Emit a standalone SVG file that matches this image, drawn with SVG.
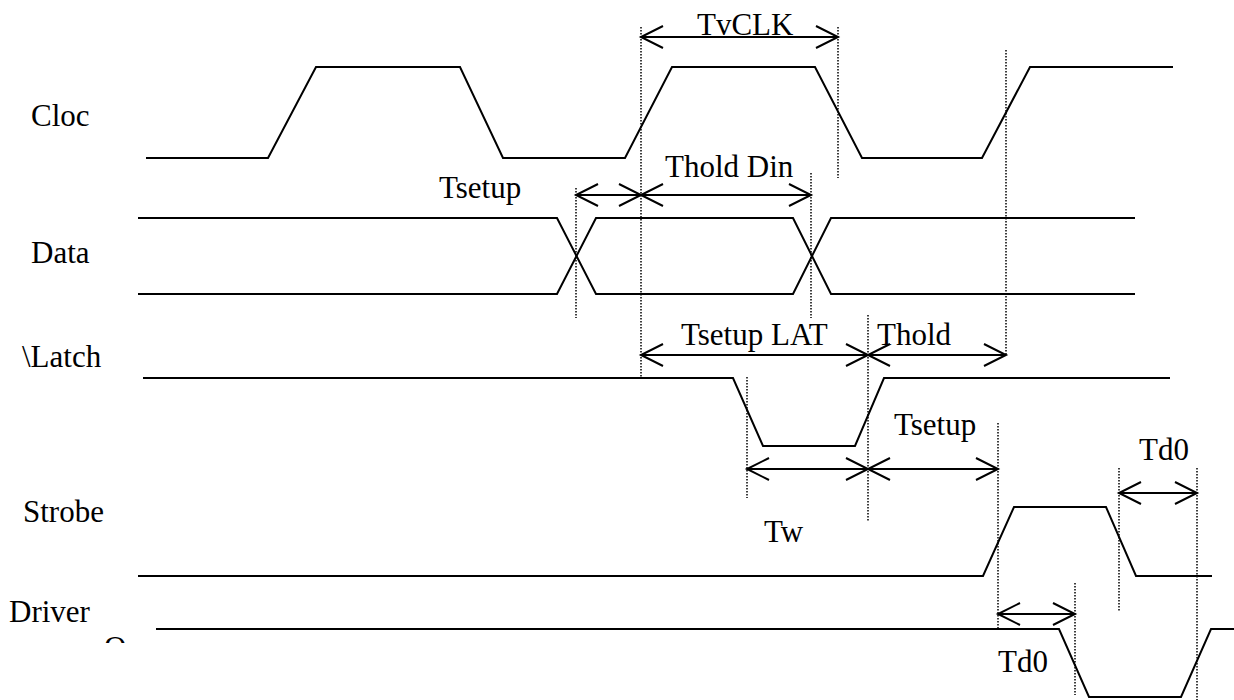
<svg xmlns="http://www.w3.org/2000/svg" width="1234" height="700" viewBox="0 0 1234 700">
<style>
.sig{fill:none;stroke:#000;stroke-width:2;stroke-linejoin:miter}
.dot{fill:none;stroke:#000;stroke-width:1.5;stroke-dasharray:1.5,1.5}
.dim{fill:none;stroke:#000;stroke-width:2;marker-start:url(#ah);marker-end:url(#ah)}
text{font-family:"Liberation Serif","Times New Roman",serif;font-size:31px;fill:#000}
</style>
<defs>
<marker id="ah" markerUnits="userSpaceOnUse" markerWidth="30" markerHeight="30" refX="0" refY="0" viewBox="-26 -15 30 30" orient="auto-start-reverse" overflow="visible">
<path d="M-22,-11 L0,0 L-22,11" fill="none" stroke="#000" stroke-width="2"/>
</marker>
<clipPath id="clipO"><rect x="90" y="620" width="60" height="23"/></clipPath>
</defs>
<rect width="1234" height="700" fill="#fff"/>

<g id="labels">
<text x="31" y="126">Cloc</text>
<text x="31" y="263">Data</text>
<text x="22" y="367">\Latch</text>
<text x="23" y="522">Strobe</text>
<text x="9" y="622">Driver</text>
<text x="104" y="658" clip-path="url(#clipO)">O</text>
</g>

<g id="clock"><polyline class="sig" points="146,158 268,158 316,67 460,67 503,158 625,158 672,67 815,67 862,158 982,158 1030,67 1173,67"/></g>
<g id="data">
<polyline class="sig" points="138,218 557,218 596,294 793,294 831,218 1135,218"/>
<polyline class="sig" points="138,294 557,294 596,218 793,218 831,294 1135,294"/>
</g>
<g id="latch"><polyline class="sig" points="143,378 733,378 763,446 855,446 884,378 1170,378"/></g>
<g id="strobe"><polyline class="sig" points="138,576 983,576 1014,507 1106,507 1136,576 1212,576"/></g>
<g id="driver"><polyline class="sig" points="156,629 1059,629 1089,697 1181,697 1211,629 1234,629"/></g>

<g id="guides">
<line class="dot" x1="576" y1="188" x2="576" y2="318"/>
<line class="dot" x1="641" y1="27" x2="641" y2="378"/>
<line class="dot" x1="838" y1="27" x2="838" y2="178"/>
<line class="dot" x1="811" y1="173" x2="811" y2="318"/>
<line class="dot" x1="1006" y1="50" x2="1006" y2="356"/>
<line class="dot" x1="868" y1="315" x2="868" y2="522"/>
<line class="dot" x1="747" y1="377" x2="747" y2="498"/>
<line class="dot" x1="998" y1="423" x2="998" y2="630"/>
<line class="dot" x1="1075" y1="583" x2="1075" y2="695"/>
<line class="dot" x1="1119" y1="468" x2="1119" y2="612"/>
<line class="dot" x1="1197" y1="468" x2="1197" y2="700"/>
</g>

<g id="connectors">
<line class="dim" x1="641" y1="37" x2="838" y2="37"/>
<line class="dim" x1="576" y1="195" x2="641" y2="195"/>
<line class="dim" x1="641" y1="195" x2="811" y2="195"/>
<line class="dim" x1="641" y1="355" x2="868" y2="355"/>
<line class="dim" x1="868" y1="355" x2="1006" y2="355"/>
<line class="dim" x1="747" y1="469" x2="868" y2="469"/>
<line class="dim" x1="868" y1="469" x2="998" y2="469"/>
<line class="dim" x1="1119" y1="493" x2="1197" y2="493"/>
<line class="dim" x1="998" y1="614" x2="1075" y2="614"/>
</g>

<g id="dim-labels">
<text x="697" y="35">TvCLK</text>
<text x="439" y="198">Tsetup</text>
<text x="665" y="177">Thold Din</text>
<text x="681" y="345">Tsetup LAT</text>
<text x="877" y="345">Thold</text>
<text x="894" y="435">Tsetup</text>
<text x="764" y="542">Tw</text>
<text x="1139" y="460">Td0</text>
<text x="998" y="672">Td0</text>
</g>
</svg>
